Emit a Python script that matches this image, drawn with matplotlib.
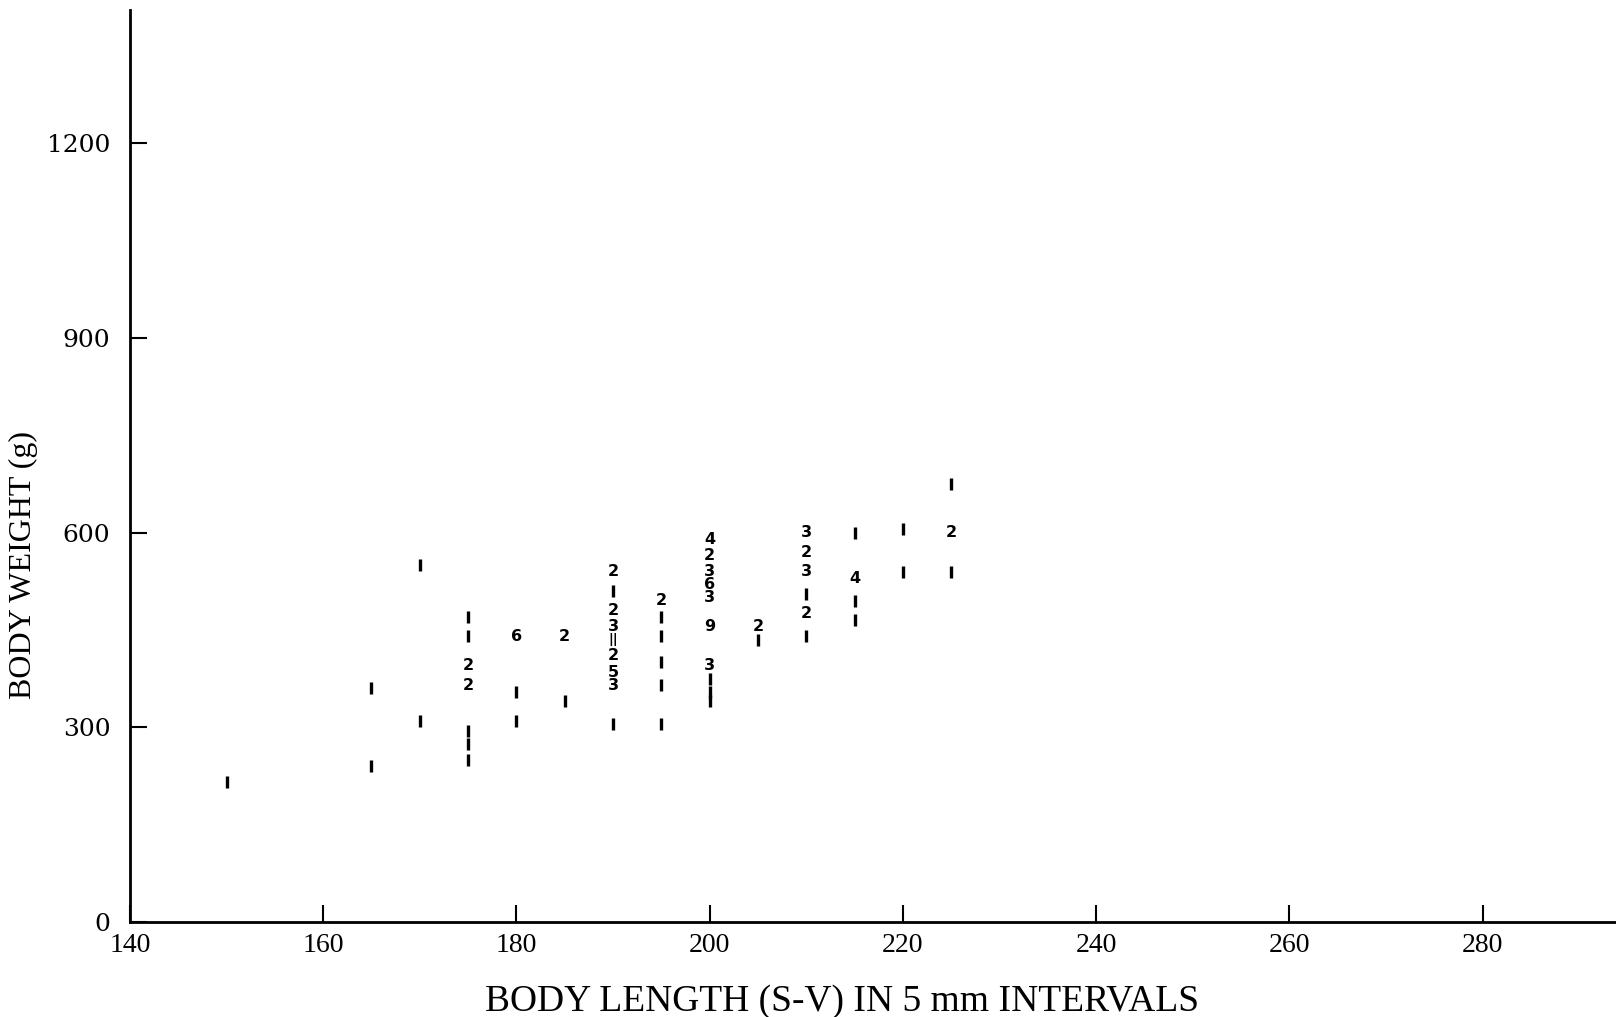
import matplotlib.pyplot as plt

# tally of individuals per length class (mm) and weight (g)
lengths = [150,
           165, 165,
           170, 170,
           175, 175, 175, 175, 175, 175, 175,
           180, 180, 180,
           185, 185,
           190, 190, 190, 190, 190, 190, 190, 190, 190,
           195, 195, 195, 195, 195, 195,
           200, 200, 200, 200, 200, 200, 200, 200, 200, 200,
           205, 205,
           210, 210, 210, 210, 210, 210,
           215, 215, 215, 215,
           220, 220,
           225, 225, 225]
weights = [215,
           360, 240,
           550, 310,
           470, 440, 395, 365, 295, 275, 250,
           440, 355, 310,
           440, 340,
           540, 510, 480, 455, 435, 410, 385, 365, 305,
           495, 470, 440, 400, 365, 305,
           590, 565, 540, 520, 500, 455, 395, 375, 355, 340,
           455, 435,
           600, 570, 540, 505, 475, 440,
           600, 530, 495, 465,
           605, 540,
           675, 600, 540]
counts = [1,
          1, 1,
          1, 1,
          1, 1, 2, 2, 1, 1, 1,
          6, 1, 1,
          2, 1,
          2, 1, 2, 3, 11, 2, 5, 3, 1,
          2, 1, 1, 1, 1, 1,
          4, 2, 3, 6, 3, 9, 3, 1, 1, 1,
          2, 1,
          3, 2, 3, 1, 2, 1,
          1, 4, 1, 1,
          1, 1,
          1, 2, 1]

x_ticks = [140, 160, 180, 200, 220, 240, 260, 280]
y_ticks = [0, 300, 600, 900, 1200]

fig = plt.figure(figsize=(16.16, 10.17), dpi=100)
ax = fig.add_axes([0.0804, 0.0934, 0.9196, 0.8966])

# single animals are a plain stroke, larger counts are written as numbers
# (a "1" inside a number is written as a stroke too)
single_x = [l for l, c in zip(lengths, counts) if c == 1]
single_y = [w for w, c in zip(weights, counts) if c == 1]
ax.scatter(single_x, single_y, marker="|", s=85, linewidths=2.4, color="black")
for l, w, c in zip(lengths, weights, counts):
    if c > 1:
        label = str(c).replace("1", "|")
        size = 9.5 if "|" in label else 11.5
        ax.text(l, w, label, ha="center", va="center",
                fontsize=size, fontweight="bold", family="DejaVu Sans", color="black")

ax.set_xlim(140, 293.8)
ax.set_ylim(0, 1405)
for side in ["top", "right"]:
    ax.spines[side].set_visible(False)
for side in ["left", "bottom"]:
    ax.spines[side].set_linewidth(2.0)

ax.set_xticks(x_ticks)
ax.set_yticks(y_ticks)
ax.tick_params(axis="both", direction="in", length=12, width=1.5)
ax.tick_params(axis="x", pad=8)
ax.tick_params(axis="y", pad=14)
for lab in ax.get_xticklabels():
    lab.set_fontfamily("Liberation Serif")
    lab.set_fontsize(20)
for lab in ax.get_yticklabels():
    lab.set_fontfamily("DejaVu Serif")
    lab.set_fontsize(18)

ax.set_xlabel("BODY LENGTH (S-V) IN 5 mm INTERVALS", family="Liberation Serif",
              fontsize=27)
ax.set_ylabel("BODY WEIGHT (g)", family="Liberation Serif", fontsize=23)
ax.xaxis.set_label_coords(0.479, -0.068)
ax.yaxis.set_label_coords(-0.062, 0.392)

fig.savefig("out.png", dpi=100)
